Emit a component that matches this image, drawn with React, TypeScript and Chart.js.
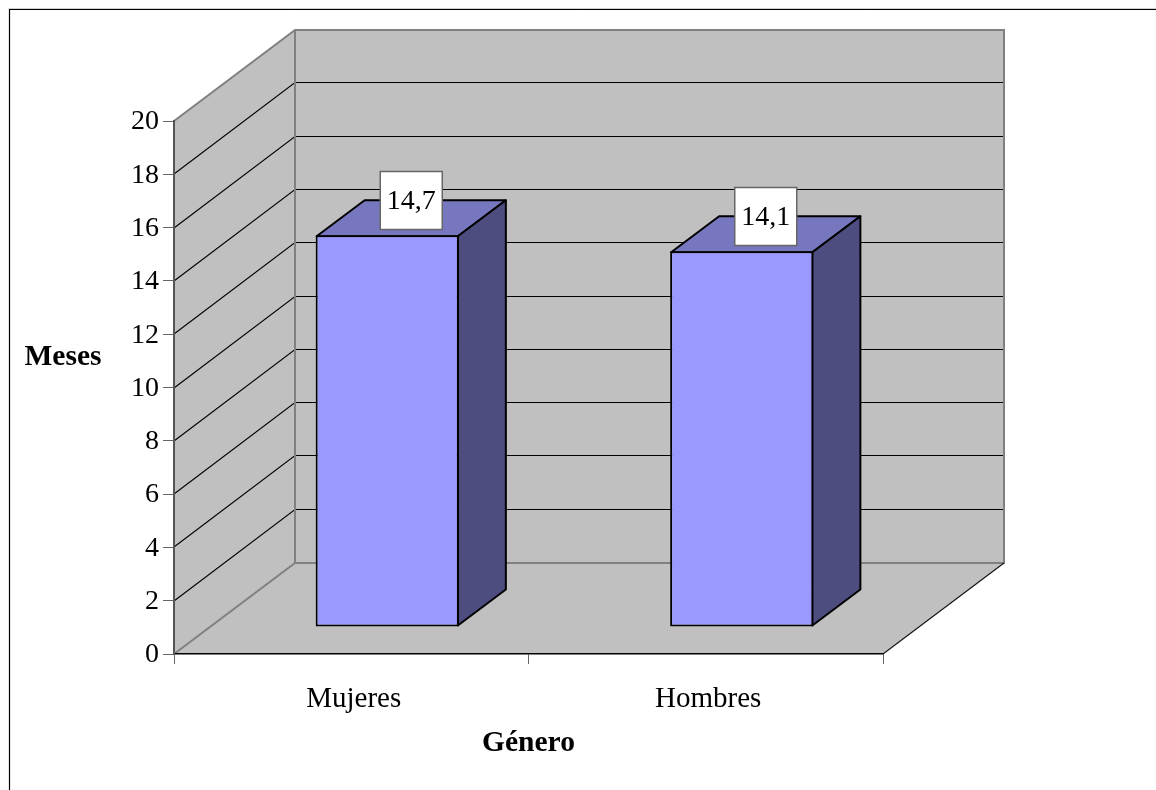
import React, { useEffect, useRef } from "react";
import { Chart, registerables } from "chart.js";

Chart.register(...registerables);

const categories = ["Mujeres", "Hombres"];
const months = [14.7, 14.1];
const yTitle = "Meses";
const xTitle = "Género";

const FONT = '"Liberation Serif", "Times New Roman", serif';
const DIGIT_SIZE = 28;
const LABEL_SIZE = 29;
const TITLE_SIZE = 29.5;
const WALL = "#C0C0C0";
const EDGE = "#808080";
const FRONT = "#9999FF";
const TOP = "#7777BF";
const SIDE = "#4D4D80";
const DEPTH = { x: 121, y: -91 };
const BAR_SHIFT = { x: 36, y: -27 };
const BAR_DEPTH = { x: 48, y: -36 };

function poly(ctx: CanvasRenderingContext2D, pts: number[][], fill: string | null, stroke: string | null, lw = 1) {
  ctx.beginPath();
  pts.forEach((p, i) => (i ? ctx.lineTo(p[0], p[1]) : ctx.moveTo(p[0], p[1])));
  if (fill) {
    ctx.closePath();
    ctx.fillStyle = fill;
    ctx.fill();
  }
  if (stroke) {
    ctx.strokeStyle = stroke;
    ctx.lineWidth = lw;
    ctx.stroke();
  }
}

const wallsPlugin = {
  id: "walls",
  beforeDraw(chart: any) {
    const { ctx, chartArea: a, scales } = chart;
    const dx = DEPTH.x;
    const dy = DEPTH.y;
    ctx.save();
    // outer frame
    poly(ctx, [[1156, 8.5], [8.5, 8.5]], null, "#D0D0D0", 1);
    poly(ctx, [[1156, 9.5], [9.5, 9.5], [9.5, 790]], null, "#000", 1.2);
    // back wall, side wall, floor
    poly(ctx, [[a.left + dx, a.top + dy], [a.right + dx, a.top + dy], [a.right + dx, a.bottom + dy], [a.left + dx, a.bottom + dy]], WALL, null);
    poly(ctx, [[a.left, a.top], [a.left + dx, a.top + dy], [a.left + dx, a.bottom + dy], [a.left, a.bottom]], WALL, null);
    poly(ctx, [[a.left, a.bottom], [a.left + dx, a.bottom + dy], [a.right + dx, a.bottom + dy], [a.right, a.bottom]], WALL, null);
    // gridlines from the value scale
    const y = scales.y;
    y.ticks.forEach((t: any) => {
      if (t.value === 0 || t.value === 20) return;
      const py = Math.round(y.getPixelForValue(t.value)) - 0.5;
      poly(ctx, [[a.left, py + 0.5], [a.left + dx, py + dy], [a.right + dx, py + dy]], null, "#000", 1.1);
    });
    // wall edges
    poly(ctx, [[a.left, a.top], [a.left + dx, a.top + dy], [a.right + dx, a.top + dy], [a.right + dx, a.bottom + dy], [a.left + dx, a.bottom + dy], [a.left, a.bottom]], null, EDGE, 2);
    poly(ctx, [[a.left + dx, a.top + dy], [a.left + dx, a.bottom + dy]], null, EDGE, 2);
    poly(ctx, [[a.right, a.bottom], [a.right + dx, a.bottom + dy]], null, "#111", 1.1);
    ctx.restore();
  },
  beforeDatasetDraw(chart: any, args: any) {
    const { ctx } = chart;
    ctx.save();
    ctx.translate(BAR_SHIFT.x, BAR_SHIFT.y);
    const meta = chart.getDatasetMeta(args.index);
    meta.data.forEach((bar: any) => {
      const l = bar.x - bar.width / 2 + 1;
      const r = bar.x + bar.width / 2 - 1;
      const t = bar.y + 1;
      const b = bar.base - 1;
      const { x: dx, y: dy } = BAR_DEPTH;
      ctx.lineJoin = "round";
      poly(ctx, [[l, t], [l + dx, t + dy], [r + dx, t + dy], [r, t]], TOP, "#000", 2);
      poly(ctx, [[r, t], [r + dx, t + dy], [r + dx, b + dy], [r, b]], SIDE, "#000", 2);
    });
  },
  afterDatasetDraw(chart: any) {
    chart.ctx.restore();
  },
  afterDatasetsDraw(chart: any) {
    const { ctx } = chart;
    ctx.save();
    ctx.textAlign = "center";
    ctx.textBaseline = "middle";
    const meta = chart.getDatasetMeta(0);
    meta.data.forEach((bar: any, i: number) => {
      const cx = bar.x + BAR_SHIFT.x + BAR_DEPTH.x / 2;
      const cy = Math.round(bar.y + BAR_SHIFT.y + BAR_DEPTH.y / 2 - 17) + 0.5;
      ctx.fillStyle = "#fff";
      ctx.strokeStyle = "#666";
      ctx.lineWidth = 1.5;
      ctx.fillRect(cx - 31, cy - 29, 62, 58);
      ctx.strokeRect(cx - 31, cy - 29, 62, 58);
      ctx.fillStyle = "#000";
      ctx.font = `${DIGIT_SIZE}px ${FONT}`;
      ctx.fillText(String(months[i]).replace(".", ","), cx, cy + 1);
    });
    ctx.font = `bold ${TITLE_SIZE}px ${FONT}`;
    ctx.fillStyle = "#000";
    ctx.fillText(yTitle, 63, 357);
    ctx.restore();
  },
};

export default function App() {
  const ref = useRef<HTMLCanvasElement>(null);
  useEffect(() => {
    const chart = new Chart(ref.current as HTMLCanvasElement, {
      type: "bar",
      data: {
        labels: categories,
        datasets: [
          {
            data: months,
            backgroundColor: FRONT,
            borderColor: "#000",
            borderWidth: 2,
            borderSkipped: false,
            barPercentage: 0.404,
            categoryPercentage: 1,
            clip: false,
          } as any,
        ],
      },
      options: {
        animation: false,
        responsive: false,
        layout: { padding: { top: 121, right: 273, left: 0, bottom: 0 } },
        plugins: { legend: { display: false }, title: { display: false }, tooltip: { enabled: false } },
        scales: {
          x: {
            afterFit(s: any) {
              s.height = 136;
            },
            grid: { drawOnChartArea: false, drawTicks: true, tickLength: 10, tickColor: "#666", offset: true },
            border: { color: "#000", width: 1.5 },
            ticks: { color: "#000", font: { family: FONT, size: LABEL_SIZE }, padding: 18, maxRotation: 0, labelOffset: 2.5 },
            title: {
              display: true,
              text: xTitle,
              color: "#000",
              font: { family: FONT, size: TITLE_SIZE, weight: "bold" },
              padding: { top: 0, bottom: 29 },
            },
          },
          y: {
            min: 0,
            max: 20,
            afterFit(s: any) {
              s.width = 174;
            },
            grid: { drawOnChartArea: false, drawTicks: true, tickLength: 11, tickColor: "#666" },
            border: { color: "#555", width: 2 },
            ticks: { stepSize: 2, color: "#000", font: { family: FONT, size: DIGIT_SIZE }, padding: 4, labelOffset: 1 },
          },
        },
      } as any,
      plugins: [wallsPlugin],
    });
    return () => chart.destroy();
  }, []);
  return (
    <div style={{ position: "absolute", left: 0, top: 0, width: 1156, height: 790, overflow: "hidden", background: "#fff" }}>
      <canvas ref={ref} width={1156} height={790} style={{ display: "block" }} />
    </div>
  );
}
